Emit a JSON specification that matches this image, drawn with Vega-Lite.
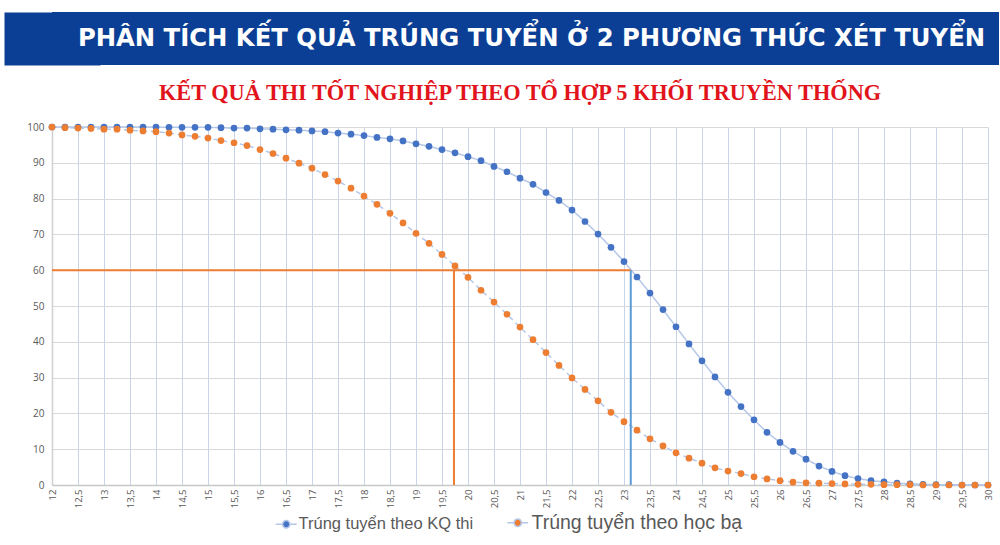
{
  "$schema": "https://vega.github.io/schema/vega-lite/v6.json",
  "padding": {"left": 5, "top": 12, "right": 0, "bottom": 0},
  "background": "white",
  "config": {
    "view": {"stroke": null},
    "font": "Open Sans"
  },
  "datasets": {
    "duong": [
      {"diem": 12, "phuong_thuc": "Trúng tuyển theo KQ thi", "ty_le": 100},
      {"diem": 12.25, "phuong_thuc": "Trúng tuyển theo KQ thi", "ty_le": 100},
      {"diem": 12.5, "phuong_thuc": "Trúng tuyển theo KQ thi", "ty_le": 100},
      {"diem": 12.75, "phuong_thuc": "Trúng tuyển theo KQ thi", "ty_le": 100},
      {"diem": 13, "phuong_thuc": "Trúng tuyển theo KQ thi", "ty_le": 100},
      {"diem": 13.25, "phuong_thuc": "Trúng tuyển theo KQ thi", "ty_le": 100},
      {"diem": 13.5, "phuong_thuc": "Trúng tuyển theo KQ thi", "ty_le": 100},
      {"diem": 13.75, "phuong_thuc": "Trúng tuyển theo KQ thi", "ty_le": 100},
      {"diem": 14, "phuong_thuc": "Trúng tuyển theo KQ thi", "ty_le": 100},
      {"diem": 14.25, "phuong_thuc": "Trúng tuyển theo KQ thi", "ty_le": 99.9},
      {"diem": 14.5, "phuong_thuc": "Trúng tuyển theo KQ thi", "ty_le": 99.9},
      {"diem": 14.75, "phuong_thuc": "Trúng tuyển theo KQ thi", "ty_le": 99.9},
      {"diem": 15, "phuong_thuc": "Trúng tuyển theo KQ thi", "ty_le": 99.9},
      {"diem": 15.25, "phuong_thuc": "Trúng tuyển theo KQ thi", "ty_le": 99.8},
      {"diem": 15.5, "phuong_thuc": "Trúng tuyển theo KQ thi", "ty_le": 99.7},
      {"diem": 15.75, "phuong_thuc": "Trúng tuyển theo KQ thi", "ty_le": 99.7},
      {"diem": 16, "phuong_thuc": "Trúng tuyển theo KQ thi", "ty_le": 99.5},
      {"diem": 16.25, "phuong_thuc": "Trúng tuyển theo KQ thi", "ty_le": 99.4},
      {"diem": 16.5, "phuong_thuc": "Trúng tuyển theo KQ thi", "ty_le": 99.2},
      {"diem": 16.75, "phuong_thuc": "Trúng tuyển theo KQ thi", "ty_le": 99.1},
      {"diem": 17, "phuong_thuc": "Trúng tuyển theo KQ thi", "ty_le": 98.9},
      {"diem": 17.25, "phuong_thuc": "Trúng tuyển theo KQ thi", "ty_le": 98.7},
      {"diem": 17.5, "phuong_thuc": "Trúng tuyển theo KQ thi", "ty_le": 98.3},
      {"diem": 17.75, "phuong_thuc": "Trúng tuyển theo KQ thi", "ty_le": 98.0},
      {"diem": 18, "phuong_thuc": "Trúng tuyển theo KQ thi", "ty_le": 97.6},
      {"diem": 18.25, "phuong_thuc": "Trúng tuyển theo KQ thi", "ty_le": 97.1},
      {"diem": 18.5, "phuong_thuc": "Trúng tuyển theo KQ thi", "ty_le": 96.7},
      {"diem": 18.75, "phuong_thuc": "Trúng tuyển theo KQ thi", "ty_le": 96.1},
      {"diem": 19, "phuong_thuc": "Trúng tuyển theo KQ thi", "ty_le": 95.3},
      {"diem": 19.25, "phuong_thuc": "Trúng tuyển theo KQ thi", "ty_le": 94.6},
      {"diem": 19.5, "phuong_thuc": "Trúng tuyển theo KQ thi", "ty_le": 93.7},
      {"diem": 19.75, "phuong_thuc": "Trúng tuyển theo KQ thi", "ty_le": 92.8},
      {"diem": 20, "phuong_thuc": "Trúng tuyển theo KQ thi", "ty_le": 91.7},
      {"diem": 20.25, "phuong_thuc": "Trúng tuyển theo KQ thi", "ty_le": 90.6},
      {"diem": 20.5, "phuong_thuc": "Trúng tuyển theo KQ thi", "ty_le": 89.0},
      {"diem": 20.75, "phuong_thuc": "Trúng tuyển theo KQ thi", "ty_le": 87.5},
      {"diem": 21, "phuong_thuc": "Trúng tuyển theo KQ thi", "ty_le": 85.7},
      {"diem": 21.25, "phuong_thuc": "Trúng tuyển theo KQ thi", "ty_le": 84.0},
      {"diem": 21.5, "phuong_thuc": "Trúng tuyển theo KQ thi", "ty_le": 81.7},
      {"diem": 21.75, "phuong_thuc": "Trúng tuyển theo KQ thi", "ty_le": 79.5},
      {"diem": 22, "phuong_thuc": "Trúng tuyển theo KQ thi", "ty_le": 76.8},
      {"diem": 22.25, "phuong_thuc": "Trúng tuyển theo KQ thi", "ty_le": 73.6},
      {"diem": 22.5, "phuong_thuc": "Trúng tuyển theo KQ thi", "ty_le": 70.1},
      {"diem": 22.75, "phuong_thuc": "Trúng tuyển theo KQ thi", "ty_le": 66.4},
      {"diem": 23, "phuong_thuc": "Trúng tuyển theo KQ thi", "ty_le": 62.4},
      {"diem": 23.25, "phuong_thuc": "Trúng tuyển theo KQ thi", "ty_le": 58.1},
      {"diem": 23.5, "phuong_thuc": "Trúng tuyển theo KQ thi", "ty_le": 53.6},
      {"diem": 23.75, "phuong_thuc": "Trúng tuyển theo KQ thi", "ty_le": 49.0},
      {"diem": 24, "phuong_thuc": "Trúng tuyển theo KQ thi", "ty_le": 44.2},
      {"diem": 24.25, "phuong_thuc": "Trúng tuyển theo KQ thi", "ty_le": 39.4},
      {"diem": 24.5, "phuong_thuc": "Trúng tuyển theo KQ thi", "ty_le": 34.7},
      {"diem": 24.75, "phuong_thuc": "Trúng tuyển theo KQ thi", "ty_le": 30.2},
      {"diem": 25, "phuong_thuc": "Trúng tuyển theo KQ thi", "ty_le": 25.9},
      {"diem": 25.25, "phuong_thuc": "Trúng tuyển theo KQ thi", "ty_le": 21.9},
      {"diem": 25.5, "phuong_thuc": "Trúng tuyển theo KQ thi", "ty_le": 18.2},
      {"diem": 25.75, "phuong_thuc": "Trúng tuyển theo KQ thi", "ty_le": 14.7},
      {"diem": 26, "phuong_thuc": "Trúng tuyển theo KQ thi", "ty_le": 11.9},
      {"diem": 26.25, "phuong_thuc": "Trúng tuyển theo KQ thi", "ty_le": 9.4},
      {"diem": 26.5, "phuong_thuc": "Trúng tuyển theo KQ thi", "ty_le": 7.2},
      {"diem": 26.75, "phuong_thuc": "Trúng tuyển theo KQ thi", "ty_le": 5.3},
      {"diem": 27, "phuong_thuc": "Trúng tuyển theo KQ thi", "ty_le": 3.8},
      {"diem": 27.25, "phuong_thuc": "Trúng tuyển theo KQ thi", "ty_le": 2.6},
      {"diem": 27.5, "phuong_thuc": "Trúng tuyển theo KQ thi", "ty_le": 1.8},
      {"diem": 27.75, "phuong_thuc": "Trúng tuyển theo KQ thi", "ty_le": 1.2},
      {"diem": 28, "phuong_thuc": "Trúng tuyển theo KQ thi", "ty_le": 0.9},
      {"diem": 28.25, "phuong_thuc": "Trúng tuyển theo KQ thi", "ty_le": 0.5},
      {"diem": 28.5, "phuong_thuc": "Trúng tuyển theo KQ thi", "ty_le": 0.3},
      {"diem": 28.75, "phuong_thuc": "Trúng tuyển theo KQ thi", "ty_le": 0.2},
      {"diem": 29, "phuong_thuc": "Trúng tuyển theo KQ thi", "ty_le": 0.1},
      {"diem": 29.25, "phuong_thuc": "Trúng tuyển theo KQ thi", "ty_le": 0.1},
      {"diem": 29.5, "phuong_thuc": "Trúng tuyển theo KQ thi", "ty_le": 0},
      {"diem": 29.75, "phuong_thuc": "Trúng tuyển theo KQ thi", "ty_le": 0},
      {"diem": 30, "phuong_thuc": "Trúng tuyển theo KQ thi", "ty_le": 0},
      {"diem": 12, "phuong_thuc": "Trúng tuyển theo học bạ", "ty_le": 100},
      {"diem": 12.25, "phuong_thuc": "Trúng tuyển theo học bạ", "ty_le": 99.8},
      {"diem": 12.5, "phuong_thuc": "Trúng tuyển theo học bạ", "ty_le": 99.7},
      {"diem": 12.75, "phuong_thuc": "Trúng tuyển theo học bạ", "ty_le": 99.6},
      {"diem": 13, "phuong_thuc": "Trúng tuyển theo học bạ", "ty_le": 99.4},
      {"diem": 13.25, "phuong_thuc": "Trúng tuyển theo học bạ", "ty_le": 99.4},
      {"diem": 13.5, "phuong_thuc": "Trúng tuyển theo học bạ", "ty_le": 99.1},
      {"diem": 13.75, "phuong_thuc": "Trúng tuyển theo học bạ", "ty_le": 98.9},
      {"diem": 14, "phuong_thuc": "Trúng tuyển theo học bạ", "ty_le": 98.7},
      {"diem": 14.25, "phuong_thuc": "Trúng tuyển theo học bạ", "ty_le": 98.3},
      {"diem": 14.5, "phuong_thuc": "Trúng tuyển theo học bạ", "ty_le": 97.8},
      {"diem": 14.75, "phuong_thuc": "Trúng tuyển theo học bạ", "ty_le": 97.4},
      {"diem": 15, "phuong_thuc": "Trúng tuyển theo học bạ", "ty_le": 96.9},
      {"diem": 15.25, "phuong_thuc": "Trúng tuyển theo học bạ", "ty_le": 96.2},
      {"diem": 15.5, "phuong_thuc": "Trúng tuyển theo học bạ", "ty_le": 95.6},
      {"diem": 15.75, "phuong_thuc": "Trúng tuyển theo học bạ", "ty_le": 94.8},
      {"diem": 16, "phuong_thuc": "Trúng tuyển theo học bạ", "ty_le": 93.7},
      {"diem": 16.25, "phuong_thuc": "Trúng tuyển theo học bạ", "ty_le": 92.6},
      {"diem": 16.5, "phuong_thuc": "Trúng tuyển theo học bạ", "ty_le": 91.3},
      {"diem": 16.75, "phuong_thuc": "Trúng tuyển theo học bạ", "ty_le": 89.9},
      {"diem": 17, "phuong_thuc": "Trúng tuyển theo học bạ", "ty_le": 88.5},
      {"diem": 17.25, "phuong_thuc": "Trúng tuyển theo học bạ", "ty_le": 86.7},
      {"diem": 17.5, "phuong_thuc": "Trúng tuyển theo học bạ", "ty_le": 84.9},
      {"diem": 17.75, "phuong_thuc": "Trúng tuyển theo học bạ", "ty_le": 82.9},
      {"diem": 18, "phuong_thuc": "Trúng tuyển theo học bạ", "ty_le": 80.7},
      {"diem": 18.25, "phuong_thuc": "Trúng tuyển theo học bạ", "ty_le": 78.4},
      {"diem": 18.5, "phuong_thuc": "Trúng tuyển theo học bạ", "ty_le": 75.9},
      {"diem": 18.75, "phuong_thuc": "Trúng tuyển theo học bạ", "ty_le": 73.2},
      {"diem": 19, "phuong_thuc": "Trúng tuyển theo học bạ", "ty_le": 70.3},
      {"diem": 19.25, "phuong_thuc": "Trúng tuyển theo học bạ", "ty_le": 67.5},
      {"diem": 19.5, "phuong_thuc": "Trúng tuyển theo học bạ", "ty_le": 64.4},
      {"diem": 19.75, "phuong_thuc": "Trúng tuyển theo học bạ", "ty_le": 61.2},
      {"diem": 20, "phuong_thuc": "Trúng tuyển theo học bạ", "ty_le": 58.0},
      {"diem": 20.25, "phuong_thuc": "Trúng tuyển theo học bạ", "ty_le": 54.4},
      {"diem": 20.5, "phuong_thuc": "Trúng tuyển theo học bạ", "ty_le": 51.1},
      {"diem": 20.75, "phuong_thuc": "Trúng tuyển theo học bạ", "ty_le": 47.7},
      {"diem": 21, "phuong_thuc": "Trúng tuyển theo học bạ", "ty_le": 44.1},
      {"diem": 21.25, "phuong_thuc": "Trúng tuyển theo học bạ", "ty_le": 40.6},
      {"diem": 21.5, "phuong_thuc": "Trúng tuyển theo học bạ", "ty_le": 37.0},
      {"diem": 21.75, "phuong_thuc": "Trúng tuyển theo học bạ", "ty_le": 33.4},
      {"diem": 22, "phuong_thuc": "Trúng tuyển theo học bạ", "ty_le": 29.9},
      {"diem": 22.25, "phuong_thuc": "Trúng tuyển theo học bạ", "ty_le": 26.7},
      {"diem": 22.5, "phuong_thuc": "Trúng tuyển theo học bạ", "ty_le": 23.5},
      {"diem": 22.75, "phuong_thuc": "Trúng tuyển theo học bạ", "ty_le": 20.3},
      {"diem": 23, "phuong_thuc": "Trúng tuyển theo học bạ", "ty_le": 17.7},
      {"diem": 23.25, "phuong_thuc": "Trúng tuyển theo học bạ", "ty_le": 15.3},
      {"diem": 23.5, "phuong_thuc": "Trúng tuyển theo học bạ", "ty_le": 12.9},
      {"diem": 23.75, "phuong_thuc": "Trúng tuyển theo học bạ", "ty_le": 10.9},
      {"diem": 24, "phuong_thuc": "Trúng tuyển theo học bạ", "ty_le": 9.0},
      {"diem": 24.25, "phuong_thuc": "Trúng tuyển theo học bạ", "ty_le": 7.5},
      {"diem": 24.5, "phuong_thuc": "Trúng tuyển theo học bạ", "ty_le": 6.1},
      {"diem": 24.75, "phuong_thuc": "Trúng tuyển theo học bạ", "ty_le": 4.8},
      {"diem": 25, "phuong_thuc": "Trúng tuyển theo học bạ", "ty_le": 3.9},
      {"diem": 25.25, "phuong_thuc": "Trúng tuyển theo học bạ", "ty_le": 3.2},
      {"diem": 25.5, "phuong_thuc": "Trúng tuyển theo học bạ", "ty_le": 2.3},
      {"diem": 25.75, "phuong_thuc": "Trúng tuyển theo học bạ", "ty_le": 1.7},
      {"diem": 26, "phuong_thuc": "Trúng tuyển theo học bạ", "ty_le": 1.2},
      {"diem": 26.25, "phuong_thuc": "Trúng tuyển theo học bạ", "ty_le": 0.8},
      {"diem": 26.5, "phuong_thuc": "Trúng tuyển theo học bạ", "ty_le": 0.6},
      {"diem": 26.75, "phuong_thuc": "Trúng tuyển theo học bạ", "ty_le": 0.5},
      {"diem": 27, "phuong_thuc": "Trúng tuyển theo học bạ", "ty_le": 0.4},
      {"diem": 27.25, "phuong_thuc": "Trúng tuyển theo học bạ", "ty_le": 0.3},
      {"diem": 27.5, "phuong_thuc": "Trúng tuyển theo học bạ", "ty_le": 0.2},
      {"diem": 27.75, "phuong_thuc": "Trúng tuyển theo học bạ", "ty_le": 0.2},
      {"diem": 28, "phuong_thuc": "Trúng tuyển theo học bạ", "ty_le": 0.1},
      {"diem": 28.25, "phuong_thuc": "Trúng tuyển theo học bạ", "ty_le": 0.1},
      {"diem": 28.5, "phuong_thuc": "Trúng tuyển theo học bạ", "ty_le": 0.1},
      {"diem": 28.75, "phuong_thuc": "Trúng tuyển theo học bạ", "ty_le": 0},
      {"diem": 29, "phuong_thuc": "Trúng tuyển theo học bạ", "ty_le": 0},
      {"diem": 29.25, "phuong_thuc": "Trúng tuyển theo học bạ", "ty_le": 0},
      {"diem": 29.5, "phuong_thuc": "Trúng tuyển theo học bạ", "ty_le": 0},
      {"diem": 29.75, "phuong_thuc": "Trúng tuyển theo học bạ", "ty_le": 0},
      {"diem": 30, "phuong_thuc": "Trúng tuyển theo học bạ", "ty_le": 0}
    ],
    "moc": [
      {"loai": "hoc_ba", "diem": 12, "diem2": 23.13, "ty_le": 60, "ty_le2": 60},
      {"loai": "hoc_ba", "diem": 19.73, "diem2": 19.73, "ty_le": 0, "ty_le2": 60},
      {"loai": "kq_thi", "diem": 23.13, "diem2": 23.13, "ty_le": 0, "ty_le2": 60}
    ]
  },
  "spacing": 16,
  "vconcat": [
    {
      "width": 947,
      "height": 53,
      "data": {"values": [{"tieu_de": "PHÂN TÍCH KẾT QUẢ TRÚNG TUYỂN Ở 2 PHƯƠNG THỨC XÉT TUYỂN"}]},
      "layer": [
        {
          "mark": {"type": "rect", "color": "#0b3f95"},
          "encoding": {}
        },
        {
          "mark": {"type": "text", "color": "white", "font": "DejaVu Sans", "fontWeight": "bold", "fontSize": 24.3, "baseline": "middle", "dx": 6},
          "encoding": {
            "text": {"field": "tieu_de"},
            "y": {
              "field": "tieu_de",
              "type": "nominal",
              "axis": {
                "title": null,
                "labels": false,
                "ticks": false,
                "grid": false,
                "domain": true,
                "domainColor": "#0b3f95",
                "domainWidth": 96,
                "domainCap": "butt"
              }
            }
          }
        }
      ]
    },
    {
      "width": 936,
      "height": 358,
      "title": {
        "text": "KẾT QUẢ THI TỐT NGHIỆP THEO TỔ HỢP 5 KHỐI TRUYỀN THỐNG",
        "font": "Liberation Serif",
        "fontSize": 22.3,
        "fontWeight": "bold",
        "color": "#e2141b",
        "anchor": "middle",
        "offset": 18
      },
      "data": {"name": "duong"},
      "resolve": {"scale": {"color": "independent"}},
      "encoding": {
        "x": {
          "field": "diem",
          "type": "quantitative",
          "scale": {"domain": [12, 30], "nice": false, "zero": false},
          "axis": {
            "title": null,
            "values": [12, 12.5, 13, 13.5, 14, 14.5, 15, 15.5, 16, 16.5, 17, 17.5, 18, 18.5, 19, 19.5, 20, 20.5, 21, 21.5, 22, 22.5, 23, 23.5, 24, 24.5, 25, 25.5, 26, 26.5, 27, 27.5, 28, 28.5, 29, 29.5, 30],
            "labelExpr": "replace(toString(datum.value), '.', ',')",
            "labelAngle": -90,
            "labelFontSize": 9.5,
            "labelColor": "#595959",
            "labelPadding": 4,
            "labelOverlap": false,
            "labelFlush": false,
            "ticks": false,
            "grid": true,
            "gridColor": "#c9d4ea",
            "gridWidth": 1,
            "domainColor": "#c8c8c8",
            "domainWidth": 1.5
          }
        },
        "y": {
          "field": "ty_le",
          "type": "quantitative",
          "scale": {"domain": [0, 100], "nice": false},
          "axis": {
            "title": "%",
            "titleOpacity": 0,
            "titleFontSize": 10,
            "titlePadding": 11,
            "values": [0, 10, 20, 30, 40, 50, 60, 70, 80, 90, 100],
            "labelFontSize": 10,
            "labelColor": "#595959",
            "labelPadding": 8,
            "ticks": false,
            "grid": true,
            "gridColor": "#d9d9d9",
            "domainColor": "#d0d0d0",
            "domainWidth": 1.5
          }
        }
      },
      "layer": [
        {
          "mark": {"type": "line", "color": "#b4c7e7", "strokeWidth": 1.5},
          "encoding": {
            "strokeDash": {
              "field": "phuong_thuc",
              "type": "nominal",
              "scale": {"domain": ["Trúng tuyển theo KQ thi", "Trúng tuyển theo học bạ"], "range": [[1, 0], [5, 4]]},
              "legend": null
            }
          }
        },
        {
          "data": {"name": "moc"},
          "transform": [{"filter": "datum.loai == 'hoc_ba'"}],
          "mark": {"type": "rule", "color": "#ed7d31", "strokeWidth": 2},
          "encoding": {
            "x2": {"field": "diem2"},
            "y2": {"field": "ty_le2"}
          }
        },
        {
          "data": {"name": "moc"},
          "transform": [{"filter": "datum.loai == 'kq_thi'"}],
          "mark": {"type": "rule", "color": "#5b9bd5", "strokeWidth": 2},
          "encoding": {
            "x2": {"field": "diem2"},
            "y2": {"field": "ty_le2"}
          }
        },
        {
          "transform": [{"filter": "datum.phuong_thuc == 'Trúng tuyển theo KQ thi'"}],
          "mark": {"type": "point", "filled": true, "opacity": 1, "size": 45},
          "encoding": {
            "color": {
              "field": "phuong_thuc",
              "type": "nominal",
              "scale": {"range": ["#4472c4"]},
              "legend": {
                "title": null,
                "orient": "none",
                "legendX": 226,
                "legendY": 389,
                "labelFont": "Liberation Sans",
                "labelColor": "#595959",
                "labelFontSize": 16.5,
                "labelLimit": 300,
                "symbolType": "M-2,0H-0.75M0.75,0H2M-0.7,0A0.7,0.7,0,1,0,0.7,0A0.7,0.7,0,1,0,-0.7,0",
                "symbolSize": 110,
                "symbolStrokeColor": "#b4c7e7",
                "symbolStrokeWidth": 1.5
              }
            }
          }
        },
        {
          "transform": [{"filter": "datum.phuong_thuc == 'Trúng tuyển theo học bạ'"}],
          "mark": {"type": "point", "filled": true, "opacity": 1, "size": 45},
          "encoding": {
            "color": {
              "field": "phuong_thuc",
              "type": "nominal",
              "scale": {"range": ["#ed7d31"]},
              "legend": {
                "title": null,
                "orient": "none",
                "legendX": 456,
                "legendY": 386,
                "labelFont": "Liberation Sans",
                "labelColor": "#595959",
                "labelFontSize": 19.5,
                "labelLimit": 300,
                "symbolType": "M-2,0H-0.75M0.75,0H2M-0.7,0A0.7,0.7,0,1,0,0.7,0A0.7,0.7,0,1,0,-0.7,0",
                "symbolSize": 110,
                "symbolStrokeColor": "#b4c7e7",
                "symbolStrokeWidth": 1.5
              }
            }
          }
        }
      ]
    }
  ]
}
